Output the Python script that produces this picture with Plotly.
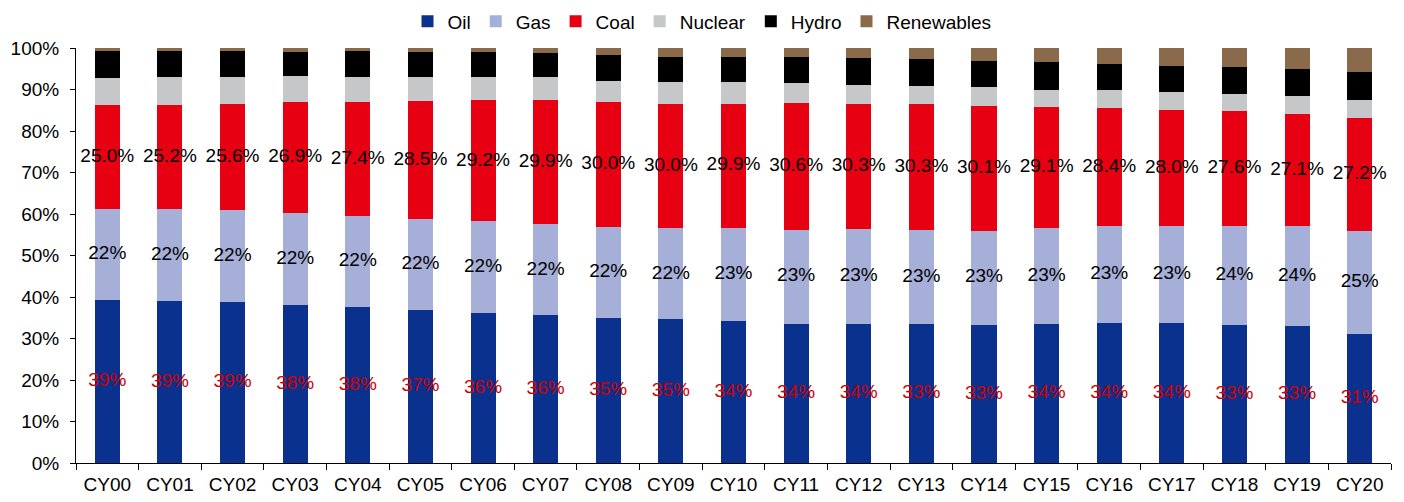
import plotly.graph_objects as go

# Primary energy mix by source, share of total (%)
years = ["CY00", "CY01", "CY02", "CY03", "CY04", "CY05", "CY06", "CY07", "CY08", "CY09", "CY10",
         "CY11", "CY12", "CY13", "CY14", "CY15", "CY16", "CY17", "CY18", "CY19", "CY20"]
oil = [39.2, 39.1, 38.8, 38.1, 37.6, 36.9, 36.2, 35.6, 34.9, 34.6, 34.1,
       33.6, 33.6, 33.4, 33.3, 33.6, 33.8, 33.7, 33.3, 33.0, 31.1]
gas = [22.0, 22.0, 22.1, 22.1, 22.0, 21.8, 22.0, 21.9, 22.0, 22.0, 22.6,
       22.6, 22.7, 22.7, 22.7, 23.0, 23.3, 23.4, 23.9, 24.1, 24.9]
coal = [25.0, 25.2, 25.6, 26.9, 27.4, 28.5, 29.2, 29.9, 30.0, 30.0, 29.9,
        30.6, 30.3, 30.3, 30.1, 29.1, 28.4, 28.0, 27.6, 27.1, 27.2]
nuclear = [6.6, 6.6, 6.5, 6.1, 6.1, 5.8, 5.6, 5.5, 5.1, 5.3, 5.1,
           4.8, 4.5, 4.5, 4.4, 4.3, 4.3, 4.3, 4.2, 4.3, 4.3]
hydro = [6.5, 6.4, 6.3, 5.9, 6.1, 6.1, 6.0, 5.9, 6.2, 6.0, 6.1,
         6.2, 6.4, 6.4, 6.4, 6.6, 6.4, 6.3, 6.4, 6.4, 6.7]
renewables = [0.7, 0.7, 0.7, 0.9, 0.8, 0.9, 1.0, 1.2, 1.8, 2.1, 2.2,
              2.2, 2.5, 2.7, 3.1, 3.4, 3.8, 4.3, 4.6, 5.1, 5.8]

series = [
    ("Oil", oil, "#0B318F"),
    ("Gas", gas, "#A5AFD8"),
    ("Coal", coal, "#E60012"),
    ("Nuclear", nuclear, "#C6C7C9"),
    ("Hydro", hydro, "#000000"),
    ("Renewables", renewables, "#8A6A4A"),
]

FONT = "Liberation Sans, Arial, sans-serif"
fig = go.Figure()
for name, vals, color in series:
    fig.add_trace(go.Bar(x=years, y=vals, name=name, marker_color=color,
                         marker_line_width=0, hoverinfo="skip"))

# Value labels centred in the oil, gas and coal segments
base = [0.0] * len(years)
label_specs = [
    (oil, lambda v: f"{v:.0f}%", "#D00000"),
    (gas, lambda v: f"{v:.0f}%", "#000000"),
    (coal, lambda v: f"{v:.1f}%", "#000000"),
]
for vals, fmt, col in label_specs:
    mids = [b + v / 2 for b, v in zip(base, vals)]
    fig.add_trace(go.Scatter(x=years, y=mids, mode="text",
                             text=[fmt(v) for v in vals],
                             textfont=dict(family=FONT, size=19, color=col),
                             showlegend=False, hoverinfo="skip"))
    base = [b + v for b, v in zip(base, vals)]

fig.update_layout(
    barmode="stack",
    bargap=0.6,
    width=1404, height=502,
    margin=dict(l=76, r=13, t=48, b=39, autoexpand=False),
    plot_bgcolor="white", paper_bgcolor="white",
    font=dict(family=FONT, size=19, color="#000000"),
    legend=dict(orientation="h", x=0.5, xanchor="center", xref="container",
                y=0.995, yanchor="top", yref="container",
                itemwidth=30, traceorder="normal",
                font=dict(family=FONT, size=19), itemclick=False),
    showlegend=True,
)
fig.update_xaxes(type="category", range=[-0.5, len(years) - 0.5],
                 showline=True, linecolor="#000000", linewidth=1,
                 ticks="outside", tickson="boundaries", ticklen=6, tickcolor="#000000",
                 ticklabelstandoff=4,
                 showgrid=False, tickfont=dict(family=FONT, size=19))
fig.update_yaxes(range=[0, 100], dtick=10, ticksuffix="%", showline=True,
                 linecolor="#000000", linewidth=1, ticks="outside", ticklen=5,
                 tickcolor="#000000", showgrid=False, zeroline=False,
                 ticklabelstandoff=7,
                 tickfont=dict(family=FONT, size=19))

fig.write_html("out.html")
